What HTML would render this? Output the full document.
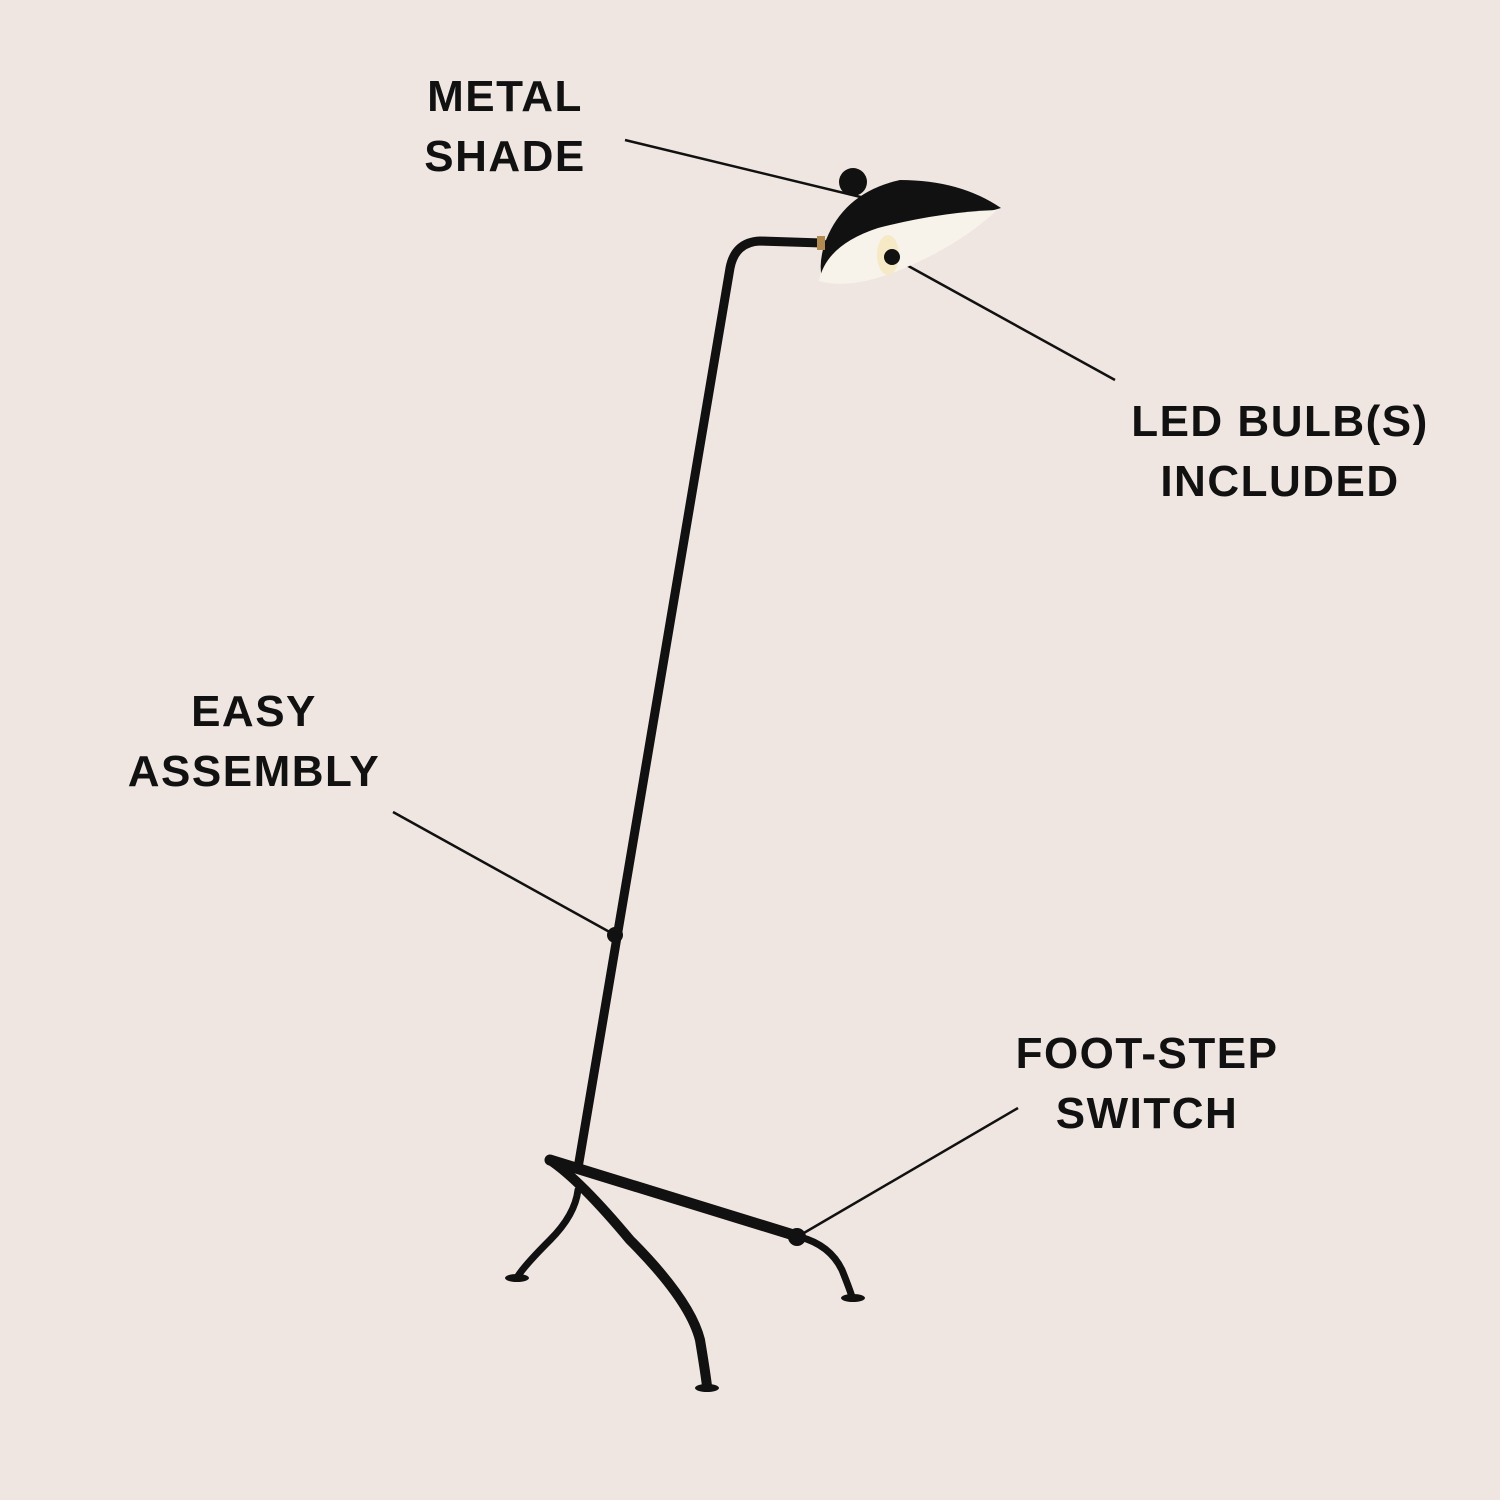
<!DOCTYPE html>
<html><head><style>
html,body{margin:0;padding:0;background:#efe6e1;}
svg{display:block}
text{font-family:"Liberation Sans",sans-serif;font-weight:bold;font-size:44px;fill:#111;text-anchor:middle;letter-spacing:1.5px}
</style></head><body>
<svg width="1500" height="1500" viewBox="0 0 1500 1500">
<rect width="1500" height="1500" fill="#efe6e1"/>
<text x="505" y="111">METAL</text>
<text x="505" y="171">SHADE</text>
<text x="1280" y="436">LED BULB(S)</text>
<text x="1280" y="496">INCLUDED</text>
<text x="254" y="726">EASY</text>
<text x="254" y="786">ASSEMBLY</text>
<text x="1147" y="1068">FOOT-STEP</text>
<text x="1147" y="1128">SWITCH</text>
<g stroke="#111" stroke-width="2.5" fill="none">
<line x1="625" y1="140" x2="873" y2="200"/>
<line x1="892" y1="257" x2="1115" y2="380"/>
<line x1="393" y1="812" x2="615" y2="935"/>
<line x1="797" y1="1237" x2="1018" y2="1108"/>
</g>
<g stroke="#111" fill="none" stroke-linecap="round">
<path d="M578 1168 L730 268 Q735 242 760 241 L822 243" stroke-width="9"/>
<path d="M550 1160 L800 1237" stroke-width="11"/>
<path d="M550 1160 Q580 1180 630 1240 Q690 1300 700 1340 Q705 1370 707 1386" stroke-width="10"/>
<path d="M578 1190 Q575 1215 550 1240 Q525 1265 518 1276" stroke-width="7"/>
<path d="M800 1237 Q830 1245 842 1270 Q850 1290 852 1297" stroke-width="7"/>
</g>
<g fill="#111">
<ellipse cx="517" cy="1278" rx="12" ry="4"/>
<ellipse cx="707" cy="1388" rx="12" ry="4"/>
<ellipse cx="853" cy="1298" rx="12" ry="4"/>
<circle cx="853" cy="182" r="14"/>
<path d="M826 240 Q845 192 900 180 Q960 180 1001 208 Q930 228 880 250 L822 278 Q818 262 826 240 Z"/>
</g>
<path d="M819 281 Q826 245 878 228 Q940 212 997 210 Q960 245 900 270 Q850 290 819 281 Z" fill="#f8f3ea"/>
<ellipse cx="888" cy="255" rx="11" ry="20" fill="#f6e9c6"/>
<rect x="817" y="236" width="8" height="14" fill="#b08a50"/>
<g fill="#111">
<circle cx="873" cy="200" r="8"/>
<circle cx="892" cy="257" r="8"/>
<circle cx="615" cy="935" r="8"/>
<circle cx="797" cy="1237" r="9"/>
</g>
</svg>
</body></html>
